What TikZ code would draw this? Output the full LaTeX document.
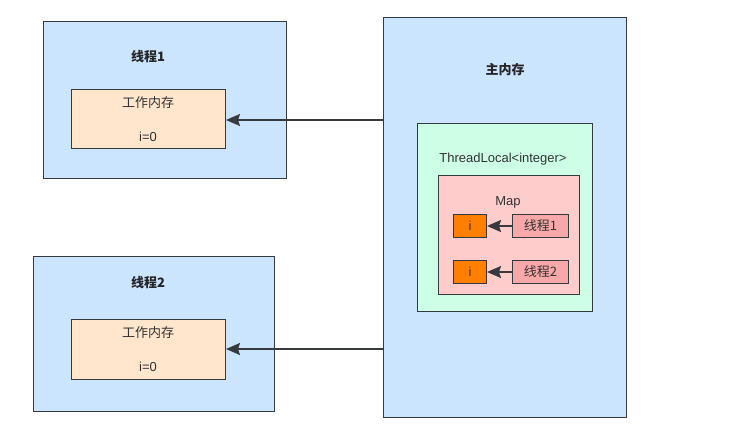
\documentclass[tikz,border=0pt]{standalone}
\usepackage{fontspec}
\setmainfont{Liberation Sans}
\newfontfamily\cjk{Noto Sans CJK SC}
\usetikzlibrary{arrows.meta}
\definecolor{lblue}{HTML}{CCE5FF}
\definecolor{peach}{HTML}{FFE6CC}
\definecolor{mint}{HTML}{CCFFE6}
\definecolor{lpink}{HTML}{FFCCCC}
\definecolor{mpink}{HTML}{F8A8A8}
\definecolor{orng}{HTML}{FF8000}
\definecolor{edge}{HTML}{36393D}
\begin{document}
\begin{tikzpicture}[x=1pt,y=-1pt,
  box/.style={draw=edge,line width=1pt},
  lbl/.style={font=\fontsize{13}{15}\selectfont,text=black!80},
  blbl/.style={font=\cjk\bfseries\fontsize{13}{15}\selectfont,text=black!85},
  conn/.style={draw=edge,line width=1.7pt,-{Stealth[length=14pt,width=12pt,inset=2pt]}}]
\useasboundingbox (0,0) rectangle (736,441);
% thread 1
\draw[box,fill=lblue] (43,22) rectangle (286,178);
\node[blbl] (t1) at (148,57) {线程1};
\node[box,fill=peach,minimum width=154pt,minimum height=59pt,anchor=north west] (w1) at (71,89) {};
\node[lbl] at (148,103) {\cjk 工作内存};
\node[lbl] at (148,137) {i=0};
% thread 2
\draw[box,fill=lblue] (33,256) rectangle (274,411);
\node[blbl] (t2) at (148,283) {线程2};
\node[box,fill=peach,minimum width=154pt,minimum height=60pt,anchor=north west] (w2) at (71,319) {};
\node[lbl] at (148,333) {\cjk 工作内存};
\node[lbl] at (148,367) {i=0};
% main memory
\node[box,fill=lblue,minimum width=243pt,minimum height=400pt,anchor=north west] (mm) at (383,17) {};
\node[blbl] at (505,70) {主内存};
\node[box,fill=mint,minimum width=175pt,minimum height=188pt,anchor=north west] (tl) at (417,123) {};
\node[lbl] at (503,159) {ThreadLocal<integer>};
\node[box,fill=lpink,minimum width=141pt,minimum height=119pt,anchor=north west] (map) at (438,175) {};
\node[lbl] at (508,202) {Map};
\node[box,fill=orng,minimum width=33pt,minimum height=23pt,anchor=north west,inner sep=0pt] (i1) at (453,214) {};
\node[lbl] at (i1) {i};
\node[box,fill=mpink,minimum width=56pt,minimum height=23pt,anchor=north west,inner sep=0pt] (k1) at (512,214) {};
\node[lbl] at (k1) {\cjk 线程1};
\node[box,fill=orng,minimum width=33pt,minimum height=23pt,anchor=north west,inner sep=0pt] (i2) at (453,260) {};
\node[lbl] at (i2) {i};
\node[box,fill=mpink,minimum width=56pt,minimum height=23pt,anchor=north west,inner sep=0pt] (k2) at (512,260) {};
\node[lbl] at (k2) {\cjk 线程2};
% connectors
\coordinate (m1) at (383,120);
\coordinate (m2) at (383,349);
\draw[conn] (m1) -- (w1.east |- m1);
\draw[conn] (m2) -- (w2.east |- m2);
\draw[conn] (k1) -- (i1);
\draw[conn] (k2) -- (i2);
\end{tikzpicture}
\end{document}
